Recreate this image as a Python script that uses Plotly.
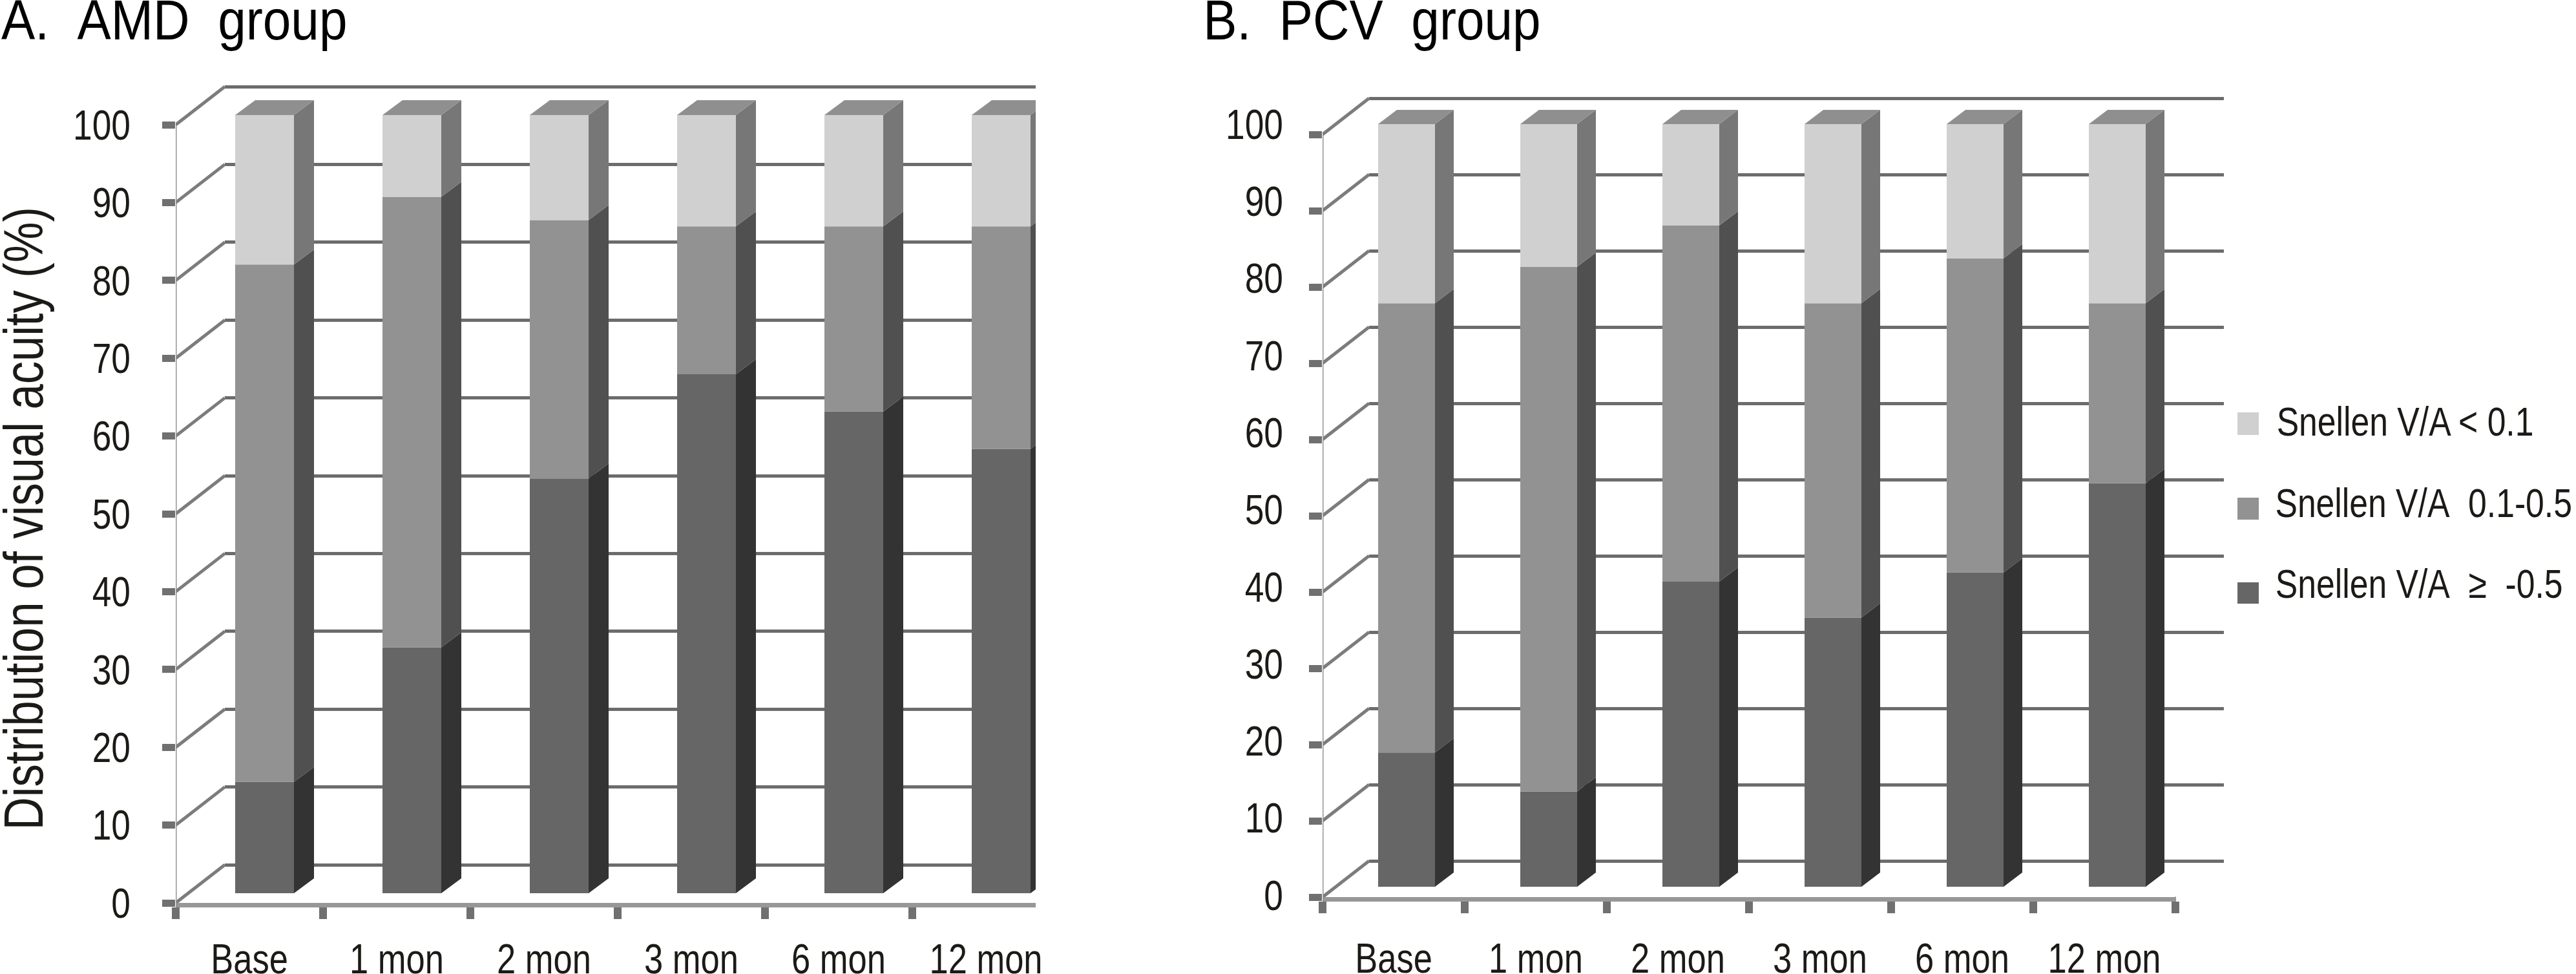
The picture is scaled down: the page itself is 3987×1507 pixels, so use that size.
import plotly.graph_objects as go

W, H = 3987, 1507
FONT = "Liberation Sans, Arial, sans-serif"

categories = ["Base", "1 mon", "2 mon", "3 mon", "6 mon", "12 mon"]
y_ticks = [0, 10, 20, 30, 40, 50, 60, 70, 80, 90, 100]
series_names = ["Snellen V/A\u00a0\u00a0\u2265\u00a0\u00a0-0.5", "Snellen V/A\u00a0\u00a00.1-0.5", "Snellen V/A < 0.1"]

amd_good = [14.3, 31.6, 53.3, 66.7, 61.9, 57.1]
amd_mid = [66.5, 57.9, 33.2, 19.0, 23.8, 28.6]
amd_poor = [19.2, 10.5, 13.5, 14.3, 14.3, 14.3]

pcv_good = [17.6, 12.5, 40.0, 35.3, 41.2, 52.9]
pcv_mid = [58.9, 68.8, 46.7, 41.2, 41.2, 23.6]
pcv_poor = [23.5, 18.7, 13.3, 23.5, 17.6, 23.5]

front_colors = ["#666666", "#929292", "#d0d0d0"]
side_colors = ["#333333", "#505050", "#777777"]
top_color = "#8f8f8f"
text_color = "#1c1a16"

fig = go.Figure()
px = lambda v: v / W
py = lambda v: 1 - v / H
sfx = lambda n: "" if n == 1 else str(n)


def panel(idx, series, g):
    ax_grid, ax_main = idx, idx + 1
    pitch, s = g["pitch"], g["scale"]
    x_end = g["x_end"]
    x_max = (x_end - g["x0"]) / pitch
    y_max = (g["y0"] - g["top"]) / s
    back_dx = (g["back_x"] - g["x0"]) / pitch
    back_dy = (g["y0"] - g["back_y0"]) / s
    bar_x = (g["bar_left"] - g["x0"]) / pitch
    bar_w = g["bar_w"] / pitch
    bar_y = (g["y0"] - g["bar_y0"]) / s
    side_dx = g["side_dx"] / pitch
    side_dy = g["side_dy"] / s
    n = len(categories)
    tick_font = dict(family=FONT, size=65, color=text_color)
    own_labels = "label_axis" not in g

    fig.update_layout({
        f"xaxis{sfx(ax_grid)}": dict(domain=[px(g["back_x"]), px(g["grid_end"])],
                                     range=[0, (g["grid_end"] - g["back_x"]) / pitch],
                                     visible=False, anchor=f"y{sfx(ax_grid)}", automargin=False),
        f"yaxis{sfx(ax_grid)}": dict(domain=[py(g["y0"]), py(g["top"])],
                                     range=[-back_dy, y_max - back_dy], automargin=False,
                                     anchor=f"x{sfx(ax_grid)}", showgrid=True, gridcolor="#6c6c6c",
                                     gridwidth=5, tickvals=y_ticks, showticklabels=False,
                                     ticks="", showline=False, zeroline=False),
        f"xaxis{sfx(ax_main)}": dict(domain=[px(g["x0"]), px(x_end)], range=[0, x_max],
                                     anchor=f"y{sfx(ax_main)}", showgrid=False, zeroline=False,
                                     tickvals=[i + 0.5 for i in range(n)], ticktext=categories,
                                     ticks="", ticklabelstandoff=g["xlabel_standoff"],
                                     automargin=False,
                                     tickfont=dict(family=FONT, size=64, color=text_color),
                                     showline=True, linecolor="#979797", linewidth=7,
                                     minor=dict(tickvals=list(range(n + 1)), ticks="outside",
                                                ticklen=18, tickwidth=12, tickcolor="#707070")),
        f"yaxis{sfx(ax_main)}": dict(domain=[py(g["y0"]), py(g["top"])], range=[0, y_max],
                                     anchor=f"x{sfx(ax_main)}", showgrid=False, zeroline=False,
                                     showline=False, tickvals=y_ticks, ticks="outside",
                                     ticklen=20, tickwidth=11, tickcolor="#707070",
                                     ticklabelstandoff=36, automargin=False,
                                     showticklabels=own_labels, tickfont=tick_font),
    })
    xa, ya = f"x{sfx(ax_main)}", f"y{sfx(ax_main)}"

    fig.add_trace(go.Scatter(x=[None], y=[None], xaxis=f"x{sfx(ax_grid)}", yaxis=f"y{sfx(ax_grid)}",
                             showlegend=False, hoverinfo="skip"))

    # In panel B the printed numbers run on a slightly longer scale than the tick marks
    if not own_labels:
        lab = g["label_axis"]
        ls = (lab["y0"] - lab["y100"]) / 100
        fig.update_layout({
            f"yaxis{sfx(lab['id'])}": dict(overlaying=f"y{sfx(ax_main)}", anchor=f"x{sfx(ax_main)}",
                                           side="left", automargin=False,
                                           range=[(lab["y0"] - g["y0"]) / ls, (lab["y0"] - g["top"]) / ls],
                                           showgrid=False, zeroline=False, showline=False,
                                           tickvals=y_ticks, ticks="", ticklabelstandoff=60,
                                           tickfont=tick_font),
        })
        fig.add_trace(go.Scatter(x=[None], y=[None], xaxis=xa, yaxis=f"y{sfx(lab['id'])}",
                                 showlegend=False, hoverinfo="skip"))

    dx, dy = [], []
    for v in y_ticks:
        dx += [0, back_dx, None]
        dy += [v, v + back_dy, None]
    fig.add_trace(go.Scatter(x=dx, y=dy, mode="lines", xaxis=xa, yaxis=ya, showlegend=False,
                             line=dict(color="#7c7c7c", width=5), hoverinfo="skip", cliponaxis=False))
    fig.add_trace(go.Scatter(x=[0, 0], y=[0, y_ticks[-1]], mode="lines", xaxis=xa, yaxis=ya,
                             showlegend=False, line=dict(color="#959595", width=3),
                             hoverinfo="skip", cliponaxis=False))
    if g["floor"]:
        fig.add_trace(go.Scatter(x=[n, n + back_dx], y=[0, back_dy], mode="lines", xaxis=xa, yaxis=ya,
                                 showlegend=False, line=dict(color="#bdbdbd", width=2),
                                 hoverinfo="skip", cliponaxis=False))

    lefts = [i + bar_x for i in range(n)]
    centers = [l + bar_w / 2 for l in lefts]
    cum = [0.0] * n
    for k, vals in enumerate(series):
        bases = [c + bar_y for c in cum]
        fig.add_trace(go.Bar(x=centers, y=vals, base=bases, width=bar_w, marker_color=front_colors[k],
                             marker_line_width=0, name=series_names[k], xaxis=xa, yaxis=ya,
                             showlegend=False))
        sx, sy = [], []
        for i in range(n):
            r = lefts[i] + bar_w
            lo, hi = bases[i], bases[i] + vals[i]
            sx += [r, r + side_dx, r + side_dx, r, r, None]
            sy += [lo, lo + side_dy, hi + side_dy, hi, lo, None]
        fig.add_trace(go.Scatter(x=sx, y=sy, mode="lines", fill="toself", fillcolor=side_colors[k],
                                 line=dict(width=0), xaxis=xa, yaxis=ya, showlegend=False,
                                 hoverinfo="skip"))
        cum = [c + v for c, v in zip(cum, vals)]
    tx, ty = [], []
    for i in range(n):
        l, r, t = lefts[i], lefts[i] + bar_w, cum[i] + bar_y
        tx += [l, r, r + side_dx, l + side_dx, l, None]
        ty += [t, t, t + side_dy, t + side_dy, t, None]
    fig.add_trace(go.Scatter(x=tx, y=ty, mode="lines", fill="toself", fillcolor=top_color,
                             line=dict(width=0), xaxis=xa, yaxis=ya, showlegend=False,
                             hoverinfo="skip", cliponaxis=False))


panel(1, [amd_good, amd_mid, amd_poor],
      dict(pitch=228, scale=12.04, x0=272, x_end=1603, grid_end=1603, y0=1397, top=125,
           back_x=348, back_y0=1338, bar_left=364, bar_w=91, bar_y0=1382,
           side_dx=31, side_dy=23, xlabel_standoff=25, floor=False))
panel(3, [pcv_good, pcv_mid, pcv_poor],
      dict(pitch=220, scale=11.8, x0=2047, x_end=3368, grid_end=3442, y0=1388, top=125,
           back_x=2119, back_y0=1332, bar_left=2133, bar_w=88, bar_y0=1372,
           side_dx=29, side_dy=22, xlabel_standoff=33, floor=True,
           label_axis=dict(id=5, y0=1385, y100=192)))

nb = "\u00a0"
annotations = [
    dict(text=f"A.{nb*2}AMD{nb*2}group", x=px(270), y=py(-21), xanchor="center", yanchor="top",
         font=dict(family=FONT, size=88, color="#000000")),
    dict(text=f"B.{nb*2}PCV{nb*2}group", x=px(2123), y=py(-21), xanchor="center", yanchor="top",
         font=dict(family=FONT, size=88, color="#000000")),
    dict(text="Distribution of visual acuity (%)", x=px(36), y=py(802), textangle=-90,
         xanchor="center", yanchor="middle", font=dict(family=FONT, size=86, color=text_color)),
]
shapes = []
legend_rows = [(2, 638, 673, 652, 3722), (1, 770, 804, 778, 3751), (0, 901, 934, 903, 3744)]
for k, y_a, y_b, y_t, x_c in legend_rows:
    shapes.append(dict(type="rect", xref="paper", yref="paper", x0=px(3463), x1=px(3496),
                       y0=py(y_b), y1=py(y_a), fillcolor=front_colors[k], line_width=0))
    annotations.append(dict(text=series_names[k], x=px(x_c), y=py(y_t), xanchor="center",
                            yanchor="middle",
                            font=dict(family=FONT, size=63, color=text_color)))
for a in annotations:
    a.update(xref="paper", yref="paper", showarrow=False)

fig.update_layout(width=W, height=H, margin=dict(l=0, r=0, t=0, b=0), barmode="overlay",
                  template="none", paper_bgcolor="white", plot_bgcolor="rgba(0,0,0,0)",
                  showlegend=False, annotations=annotations, shapes=shapes, font=dict(family=FONT))

# The reference's lettering is condensed; no narrow face is installed, so the same
# real text is condensed horizontally once it has been laid out.
squeeze = """
document.body.style.margin = '0';
function squeezeText() {
  document.querySelectorAll('.main-svg text').forEach(function (t) {
    if (t.dataset.squeezed) return;
    var len = t.getComputedTextLength();
    if (!len) return;
    var factor = parseFloat(t.style.fontSize) === 88 ? 0.89 : 0.82;
    t.setAttribute('textLength', len * factor);
    t.setAttribute('lengthAdjust', 'spacingAndGlyphs');
    t.dataset.squeezed = '1';
  });
}
squeezeText();
setTimeout(squeezeText, 50);
setTimeout(squeezeText, 300);
"""
fig.write_html("out.html", post_script=squeeze, config={"displayModeBar": False})
